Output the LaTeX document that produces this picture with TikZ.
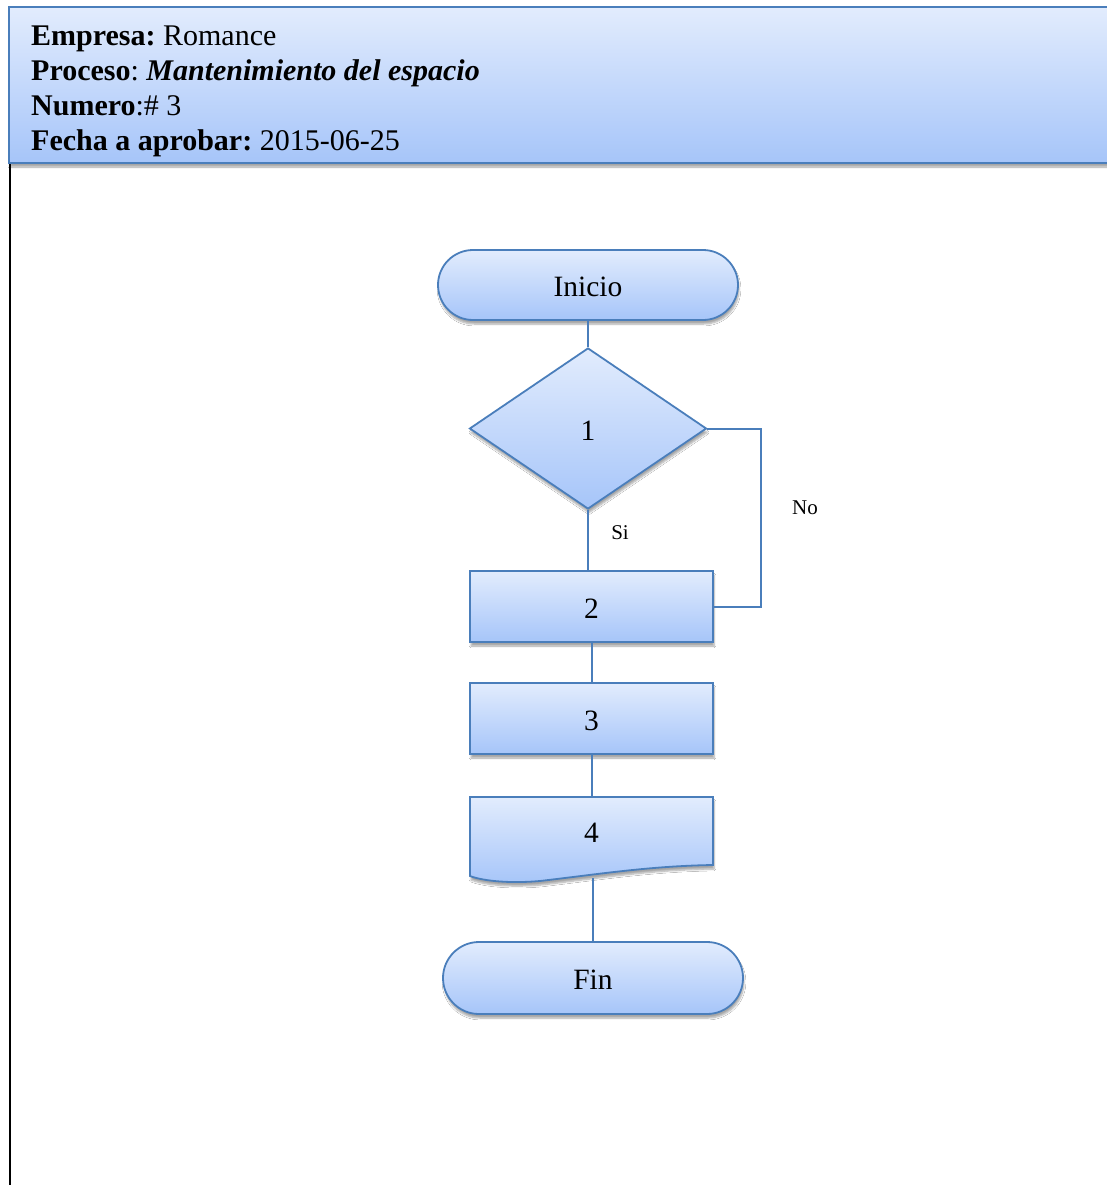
\documentclass[tikz,border=0pt]{standalone}
\usepackage{fontspec}
\setmainfont{Liberation Serif}
\usetikzlibrary{shapes.geometric,shadows.blur,calc}
\definecolor{edgeblue}{RGB}{74,126,187}
\definecolor{filltop}{RGB}{226,236,253}
\definecolor{fillbot}{RGB}{166,197,249}
\tikzset{
  blueshape/.style={draw=edgeblue, line width=1.8pt, top color=filltop, bottom color=fillbot,
    blur shadow={shadow xshift=1pt, shadow yshift=-4pt, shadow blur steps=6, shadow opacity=35}},
  labeltext/.style={font=\fontsize{29.5}{34}\selectfont, text depth=0pt, yshift=-2pt},
  terminal/.style={blueshape, rectangle, rounded corners=35pt, minimum width=300pt, minimum height=70pt, inner sep=0pt},
  procbox/.style={blueshape, rectangle, minimum width=243pt, minimum height=71pt, inner sep=0pt},
  decision/.style={blueshape, diamond, aspect=1.47, minimum width=237pt, minimum height=161pt, inner sep=0pt},
  link/.style={draw=edgeblue, line width=2pt},
  smalllabel/.style={font=\fontsize{21}{24}\selectfont, inner sep=0pt}
}
\begin{document}
\frenchspacing
\begin{tikzpicture}[x=1pt,y=-1pt]
\useasboundingbox (0,0) rectangle (1106,1185);
\fill[white] (0,0) rectangle (1106,1185);

% page frame line on the left
\draw[black, line width=2pt] (10,163) -- (10,1186);

% header band
\path[blueshape] (9,7) rectangle (1112,163);
\node[anchor=north west, align=left, inner sep=0pt, font=\fontsize{30}{35}\selectfont] (hdrtext) at (31,26)
  {\textbf{Empresa:} Romance\\
   \textbf{Proceso}: \textbf{\textit{Mantenimiento del espacio}}\\
   \textbf{Numero}:\# 3\\
   \textbf{Fecha a aprobar:} 2015-06-25};

% flowchart shapes
\node[terminal] (ini) at (588,285) {};
\node[decision] (d1) at (588,428.5) {};
\node[procbox] (b2) at (591.5,606.5) {};
\node[procbox] (b3) at (591.5,718.5) {};

% document symbol for step 4
\path[blueshape] (470,797) -- (713,797) -- (713,865)
  .. controls (650,866) and (600,874) .. (540,881)
  .. controls (505,884) and (480,880) .. (470,876) -- cycle;
\node[minimum width=243pt, minimum height=68pt, inner sep=0pt] (b4) at (591.5,831) {};
\coordinate (b4foot) at (592.5,878);

\node[terminal, minimum height=72pt, rounded corners=36pt] (fin) at (593,978) {};

% texts inside the shapes
\node[labeltext] (tini) at (ini) {Inicio};
\node[labeltext] (td1) at (d1) {1};
\node[labeltext] (tb2) at (b2) {2};
\node[labeltext] (tb3) at (b3) {3};
\node[labeltext] (tb4) at (b4) {4};
\node[labeltext] (tfin) at (fin) {Fin};

% connectors
\draw[link] (ini.south) -- (d1.north);
\draw[link] (d1.south) -- (d1.south |- b2.north);
\draw[link] (d1.east) -- ++(54,0) coordinate (nocorner) |- (b2.east);
\draw[link] (b2.south) -- (b3.north);
\draw[link] (b3.south) -- (b4.north);
\draw[link] (b4foot) -- (fin.north -| b4foot);

% branch labels
\node[smalllabel] (si) at (620,533) {Si};
\node[smalllabel] (no) at (805,508) {No};
\end{tikzpicture}
\end{document}
